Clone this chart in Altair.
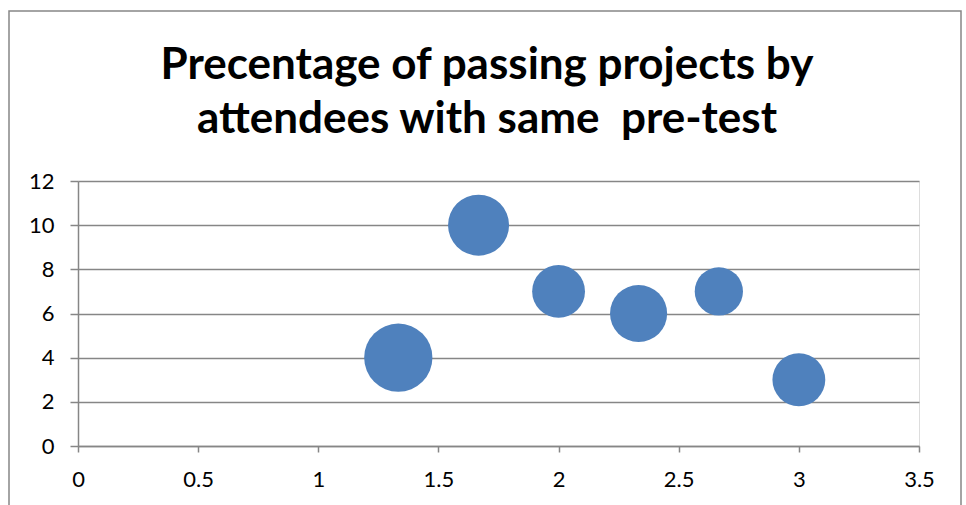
import altair as alt
import pandas as pd

# Data
pre_test = [1.333, 1.667, 2.0, 2.333, 2.667, 3.0]
passing = [4, 10, 7, 6, 7, 3]
attendees = [10, 8, 6, 7, 5, 6]

title_lines = ["Precentage of passing projects by", "attendees with same\u00a0 pre-test"]
x_ticks = [0, 0.5, 1, 1.5, 2, 2.5, 3, 3.5]
y_ticks = [0, 2, 4, 6, 8, 10, 12]

df = pd.DataFrame({"x": pre_test, "y": passing, "size": attendees})

GRID = "#868686"
FONT = "Lato"

bubbles = alt.Chart(df).mark_circle(color="#4F81BD", opacity=1).encode(
    x=alt.X("x:Q",
            scale=alt.Scale(domain=[0, 3.5], nice=False, zero=True),
            axis=alt.Axis(values=x_ticks, title=None, grid=False,
                          tickSize=6, tickColor=GRID, domainColor=GRID,
                          tickWidth=1.5, domainWidth=1.5,
                          labelFontSize=22, labelFont=FONT, labelColor="#000000",
                          labelPadding=17, labelFlush=False,
                          format="~g")),
    y=alt.Y("y:Q",
            scale=alt.Scale(domain=[0, 12], nice=False),
            axis=alt.Axis(values=y_ticks, title=None, grid=True, gridColor=GRID,
                          gridWidth=1.5, tickWidth=1.5, domainWidth=1.5,
                          tickSize=8, tickColor=GRID, domainColor=GRID,
                          labelFontSize=22, labelFont=FONT, labelColor="#000000",
                          labelPadding=16)),
    size=alt.Size("size:Q", scale=alt.Scale(domain=[0, 10], range=[0, 4657]), legend=None),
)

border = alt.Chart(pd.DataFrame({"a": [0]})).mark_rect(
    fill=None, stroke=GRID, strokeWidth=1.5
).encode(
    x=alt.value(-69), x2=alt.value(883), y=alt.value(-170), y2=alt.value(345)
)

title_layers = []
for i, line in enumerate(title_lines):
    title_layers.append(
        alt.Chart(pd.DataFrame({"a": [0]})).mark_text(
            font=FONT, fontSize=44, fontWeight="bold", color="#000000",
            align="center", baseline="alphabetic"
        ).encode(
            x=alt.value(409), y=alt.value(-102 + 54 * i), text=alt.value(line)
        )
    )

chart = alt.layer(border, *title_layers, bubbles).properties(
    width=841,
    height=265,
    padding={"left": 78, "top": 181, "right": 47, "bottom": 59},
    autosize=alt.AutoSizeParams(type="none"),
).configure_view(stroke=None).configure(background="white")

chart.save("out.html", embed_options={"renderer": "svg", "actions": False})
